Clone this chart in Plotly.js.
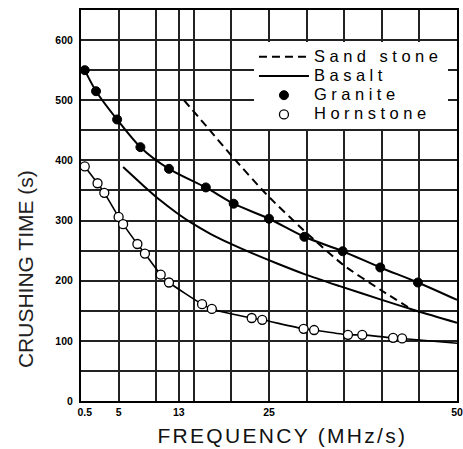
<!DOCTYPE html>
<html>
<head>
<meta charset="utf-8">
<script src="https://cdn.plot.ly/plotly-3.0.1.min.js"></script>
<style>
  html, body { margin: 0; padding: 0; background: #fff; }
  #chart { width: 463px; height: 449px; }
  .legendtext { font-size: 16.5px !important; letter-spacing: 4.5px; }
  .annotation[data-index="0"] text { letter-spacing: 2.3px; }
</style>
</head>
<body>
<div id="chart"></div>
<script>
// ---- data ----
const xTickVals = [0.5, 5, 13, 25, 50];
const xTickText = ['0.5', '5', '13', '25', '50'];
const xGridVals = [5, 10, 13, 15, 20, 25, 30, 35, 40, 45];
const yTickVals = [0, 50, 100, 150, 200, 250, 300, 350, 400, 450, 500, 550, 600];
const yTickText = ['0', '', '100', '', '200', '', '300', '', '400', '', '500', '', '600'];

const sandX = [13.7, 17.0, 20.0, 24.7, 29.6, 34.9, 39.8, 44.4];
const sandY = [500, 452, 408, 343, 284, 226, 185, 149];

const basaltX = [5.6, 8.3, 10.5, 12.7, 14.7, 17.2, 19.8, 22.5, 26.0, 29.7, 34.4, 39.8, 44.6, 50];
const basaltY = [389, 358, 334, 313, 296, 278, 262, 247, 229, 211, 191, 169, 150, 130];

const graniteX = [0.5, 2.0, 4.8, 7.9, 11.7, 16.6, 20.3, 25.0, 29.7, 34.8, 39.8, 44.8];
const graniteY = [550, 515, 468, 422, 386, 355, 328, 303, 273, 249, 222, 197];
const graniteCurveX = [0.5, 2.0, 4.8, 7.9, 11.7, 16.6, 20.3, 25.0, 29.7, 34.8, 39.8, 44.8, 50];
const graniteCurveY = [550, 515, 468, 422, 386, 355, 328, 303, 273, 249, 222, 197, 168];

const hornX = [0.5, 2.2, 3.1, 5.0, 5.6, 7.5, 8.5, 10.6, 11.7, 16.1, 17.4, 22.7, 24.1, 29.6, 31.0, 35.5, 37.4, 41.5, 42.7];
const hornY = [390, 362, 346, 306, 294, 261, 245, 210, 197, 161, 153, 138, 135, 120, 118, 110, 110, 105, 104];
const hornCurveX = [0.5, 2.2, 3.1, 5.0, 5.6, 7.5, 8.5, 10.6, 11.7, 16.1, 17.4, 22.7, 24.1, 29.6, 31.0, 35.5, 37.4, 41.5, 42.7, 50];
const hornCurveY = [390, 362, 346, 306, 294, 261, 245, 210, 197, 161, 153, 138, 135, 120, 118, 110, 110, 105, 104, 96];

const seriesNames = ['Sand stone', 'Basalt', 'Granite', 'Hornstone'];

// ---- traces ----
const traces = [
  { x: sandX, y: sandY, name: seriesNames[0], mode: 'lines', type: 'scatter',
    line: { color: '#000', width: 2, dash: '8px,5px', shape: 'spline', smoothing: 0.6 } },
  { x: basaltX, y: basaltY, name: seriesNames[1], mode: 'lines', type: 'scatter',
    line: { color: '#000', width: 2, shape: 'spline', smoothing: 0.8 } },
  { x: graniteCurveX, y: graniteCurveY, mode: 'lines', type: 'scatter', showlegend: false, hoverinfo: 'skip',
    line: { color: '#000', width: 2, shape: 'spline', smoothing: 0.8 } },
  { x: hornCurveX, y: hornCurveY, mode: 'lines', type: 'scatter', showlegend: false, hoverinfo: 'skip',
    line: { color: '#000', width: 1.6, shape: 'spline', smoothing: 0.6 } },
  { x: graniteX, y: graniteY, name: seriesNames[2], mode: 'markers', type: 'scatter',
    marker: { color: '#000', size: 9, line: { color: '#000', width: 1 } } },
  { x: hornX, y: hornY, name: seriesNames[3], mode: 'markers', type: 'scatter',
    marker: { color: '#fff', size: 9, line: { color: '#000', width: 1.3 } } }
];

const tickFont = { family: 'Arial, Liberation Sans, sans-serif', size: 10.5, color: '#000', weight: 'bold' };

const layout = {
  width: 463, height: 449,
  margin: { l: 81, r: 6, t: 10, b: 48 },
  paper_bgcolor: '#fff', plot_bgcolor: '#fff',
  showlegend: true,
  xaxis: {
    range: [0, 50], tickmode: 'array', tickvals: xTickVals, ticktext: xTickText,
    showgrid: false, zeroline: false, showline: true, mirror: true, linecolor: '#000', linewidth: 2,
    ticks: '', ticklen: 0, tickfont: tickFont,
    minor: { tickmode: 'array', tickvals: xGridVals, showgrid: true, gridcolor: '#222', gridwidth: 2, ticks: '' }
  },
  yaxis: {
    range: [0, 650], tickmode: 'array', tickvals: yTickVals, ticktext: yTickText,
    showgrid: true, gridcolor: '#222', gridwidth: 2, zeroline: false,
    showline: true, mirror: true, linecolor: '#000', linewidth: 2,
    ticks: '', ticklen: 0, tickfont: tickFont, ticklabelstandoff: 4
  },
  legend: {
    x: 0.46, y: 0.918, xanchor: 'left', yanchor: 'top',
    bgcolor: '#fff', borderwidth: 0,
    font: { family: 'Arial, Liberation Sans, sans-serif', size: 12.5, color: '#000' },
    itemwidth: 50, tracegroupgap: 0
  },
  annotations: [
    { text: 'FREQUENCY (MHz/s)', xref: 'paper', yref: 'paper', x: 0.537, y: -0.0895,
      xanchor: 'center', yanchor: 'middle', showarrow: false,
      font: { family: 'Arial, Liberation Sans, sans-serif', size: 21, color: '#111' } },
    { text: 'CRUSHING TIME (s)', xref: 'paper', yref: 'paper', x: -0.146, y: 0.3376,
      xanchor: 'center', yanchor: 'middle', showarrow: false, textangle: -90,
      font: { family: 'Arial, Liberation Sans, sans-serif', size: 21, color: '#222' } }
  ]
};

Plotly.newPlot('chart', traces, layout, { displayModeBar: false });
</script>
</body>
</html>
